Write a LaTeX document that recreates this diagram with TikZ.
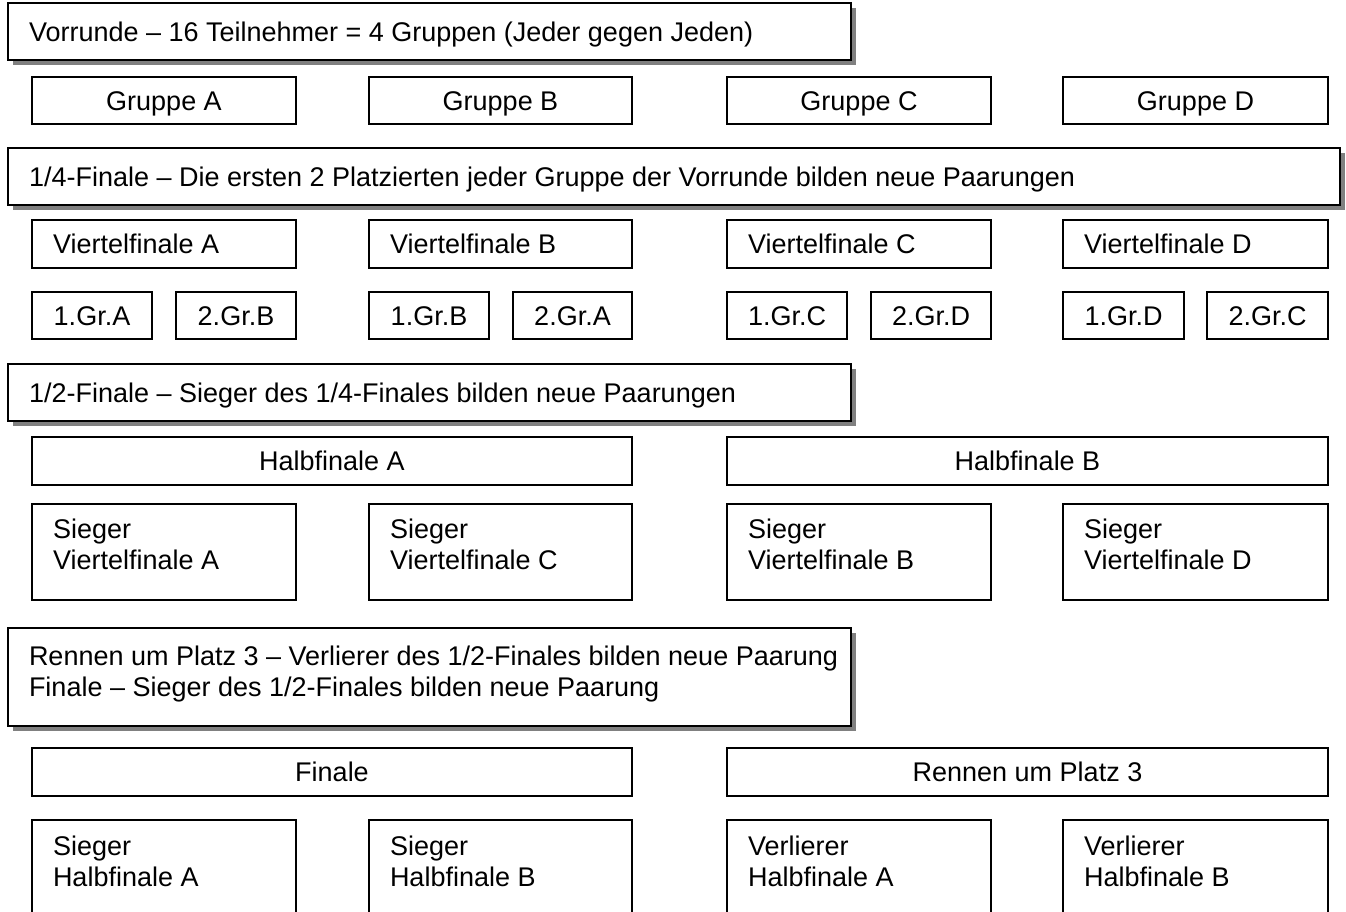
\documentclass[tikz,border=0pt]{standalone}
\usepackage{fontspec}
\setmainfont{Liberation Sans}
\usetikzlibrary{shadows}
\definecolor{shadowgray}{RGB}{128,128,128}
\tikzset{
  box/.style={draw=black, line width=1.3pt, fill=white, inner sep=0pt, outer sep=0pt, anchor=north west},
  headbox/.style={box, drop shadow={shadow xshift=5pt, shadow yshift=-5pt, fill=shadowgray, opacity=1}},
  txt/.style={font=\fontsize{27}{30.5}\selectfont, inner sep=0pt, outer sep=0pt},
  ltxt/.style={txt, anchor=base west},
  ctxt/.style={txt, anchor=base},
  mtxt/.style={txt, anchor=base west, align=left},
}
\newcommand\bx[6][box]{\node[#1, minimum width={#4-#2}, minimum height={#5-#3}] (#6) at (#2,#3) {};}
\begin{document}
\begin{tikzpicture}[x=1pt,y=-1pt]
\useasboundingbox (0,0) rectangle (1346,911);
\clip (0,0) rectangle (1346,911);
% Header 1
\bx[headbox]{8}{3}{851}{60}{h1}
\node[ltxt] (h1t) at ([xshift=21pt,yshift=-9.5pt]h1.west) {Vorrunde – 16 Teilnehmer = 4 Gruppen (Jeder gegen Jeden)};
% Groups
\bx{32}{77}{296}{124}{gA}
\bx{369}{77}{632}{124}{gB}
\bx{727}{77}{991}{124}{gC}
\bx{1063}{77}{1328}{124}{gD}
\node[ctxt] (gAt) at ([yshift=-9.5pt]gA.center) {Gruppe A};
\node[ctxt] (gBt) at ([yshift=-9.5pt]gB.center) {Gruppe B};
\node[ctxt] (gCt) at ([yshift=-9.5pt]gC.center) {Gruppe C};
\node[ctxt] (gDt) at ([yshift=-9.5pt]gD.center) {Gruppe D};
% Header 2
\bx[headbox]{8}{148}{1340}{205}{h2}
\node[ltxt] (h2t) at ([xshift=21pt,yshift=-9.5pt]h2.west) {1/4-Finale – Die ersten 2 Platzierten jeder Gruppe der Vorrunde bilden neue Paarungen};
% Viertelfinale
\bx{32}{220}{296}{268}{vA}
\bx{369}{220}{632}{268}{vB}
\bx{727}{220}{991}{268}{vC}
\bx{1063}{220}{1328}{268}{vD}
\node[ltxt] (vAt) at ([xshift=21pt,yshift=-9.5pt]vA.west) {Viertelfinale A};
\node[ltxt] (vBt) at ([xshift=21pt,yshift=-9.5pt]vB.west) {Viertelfinale B};
\node[ltxt] (vCt) at ([xshift=21pt,yshift=-9.5pt]vC.west) {Viertelfinale C};
\node[ltxt] (vDt) at ([xshift=21pt,yshift=-9.5pt]vD.west) {Viertelfinale D};
% Group places
\bx{32}{292}{152}{339}{p1}
\bx{176}{292}{296}{339}{p2}
\bx{369}{292}{489}{339}{p3}
\bx{513}{292}{632}{339}{p4}
\bx{727}{292}{847}{339}{p5}
\bx{871}{292}{991}{339}{p6}
\bx{1063}{292}{1184}{339}{p7}
\bx{1207}{292}{1328}{339}{p8}
\node[ctxt] (p1t) at ([yshift=-9.5pt]p1.center) {1.Gr.A};
\node[ctxt] (p2t) at ([yshift=-9.5pt]p2.center) {2.Gr.B};
\node[ctxt] (p3t) at ([yshift=-9.5pt]p3.center) {1.Gr.B};
\node[ctxt] (p4t) at ([yshift=-9.5pt]p4.center) {2.Gr.A};
\node[ctxt] (p5t) at ([yshift=-9.5pt]p5.center) {1.Gr.C};
\node[ctxt] (p6t) at ([yshift=-9.5pt]p6.center) {2.Gr.D};
\node[ctxt] (p7t) at ([yshift=-9.5pt]p7.center) {1.Gr.D};
\node[ctxt] (p8t) at ([yshift=-9.5pt]p8.center) {2.Gr.C};
% Header 3
\bx[headbox]{8}{364}{851}{421}{h3}
\node[ltxt] (h3t) at ([xshift=21pt,yshift=-9.5pt]h3.west) {1/2-Finale – Sieger des 1/4-Finales bilden neue Paarungen};
% Halbfinale
\bx{32}{437}{632}{485}{hA}
\bx{727}{437}{1328}{485}{hB}
\node[ctxt] (hAt) at ([yshift=-9.5pt]hA.center) {Halbfinale A};
\node[ctxt] (hBt) at ([yshift=-9.5pt]hB.center) {Halbfinale B};
% Sieger Viertelfinale
\bx{32}{504}{296}{600}{sA}
\bx{369}{504}{632}{600}{sB}
\bx{727}{504}{991}{600}{sC}
\bx{1063}{504}{1328}{600}{sD}
\node[mtxt] (sAt) at ([xshift=21pt,yshift=-65pt]sA.north west) {Sieger\\Viertelfinale A};
\node[mtxt] (sBt) at ([xshift=21pt,yshift=-65pt]sB.north west) {Sieger\\Viertelfinale C};
\node[mtxt] (sCt) at ([xshift=21pt,yshift=-65pt]sC.north west) {Sieger\\Viertelfinale B};
\node[mtxt] (sDt) at ([xshift=21pt,yshift=-65pt]sD.north west) {Sieger\\Viertelfinale D};
% Header 4
\bx[headbox]{8}{628}{851}{726}{h4}
\node[mtxt] (h4t) at ([xshift=21pt,yshift=-68pt]h4.north west) {Rennen um Platz 3 – Verlierer des 1/2-Finales bilden neue Paarung\\Finale – Sieger des 1/2-Finales bilden neue Paarung};
% Finale
\bx{32}{748}{632}{796}{fA}
\bx{727}{748}{1328}{796}{fB}
\node[ctxt] (fAt) at ([yshift=-9.5pt]fA.center) {Finale};
\node[ctxt] (fBt) at ([yshift=-9.5pt]fB.center) {Rennen um Platz 3};
% Bottom
\bx{32}{820}{296}{960}{bA}
\bx{369}{820}{632}{960}{bB}
\bx{727}{820}{991}{960}{bC}
\bx{1063}{820}{1328}{960}{bD}
\node[mtxt] (bAt) at ([xshift=21pt,yshift=-66pt]bA.north west) {Sieger\\Halbfinale A};
\node[mtxt] (bBt) at ([xshift=21pt,yshift=-66pt]bB.north west) {Sieger\\Halbfinale B};
\node[mtxt] (bCt) at ([xshift=21pt,yshift=-66pt]bC.north west) {Verlierer\\Halbfinale A};
\node[mtxt] (bDt) at ([xshift=21pt,yshift=-66pt]bD.north west) {Verlierer\\Halbfinale B};
\end{tikzpicture}
\end{document}
